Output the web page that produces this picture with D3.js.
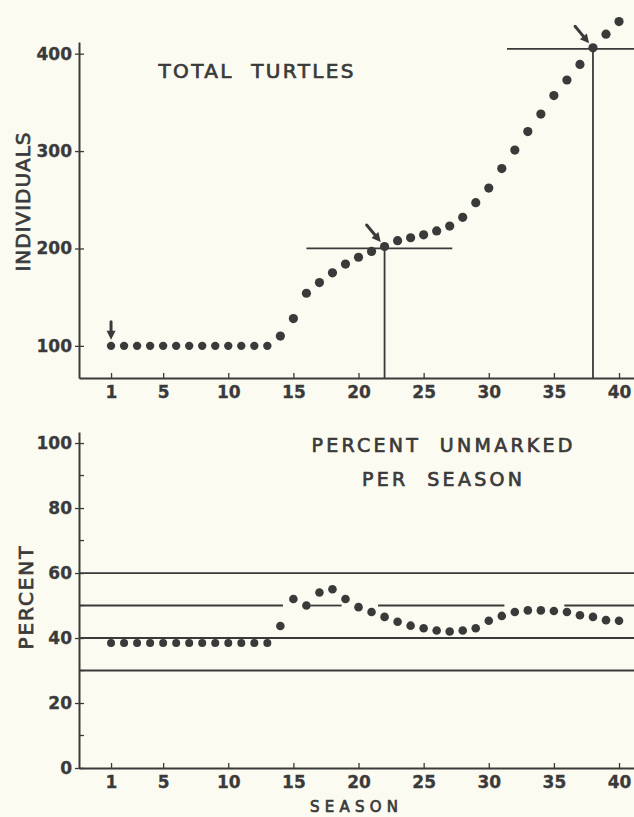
<!DOCTYPE html>
<html>
<head>
<meta charset="utf-8">
<script src="https://cdn.jsdelivr.net/npm/d3@7"></script>
<style>
  html, body { margin: 0; padding: 0; background: #fcfbf1; }
  svg { display: block; }
  text { font-family: "DejaVu Sans", sans-serif; fill: #3a3a3a; }
</style>
</head>
<body>
<svg id="chart" width="634" height="817"></svg>
<script>
// ----------
// data
var seasons = [1, 2, 3, 4, 5, 6, 7, 8, 9, 10, 11, 12, 13, 14, 15, 16, 17, 18, 19, 20,
  21, 22, 23, 24, 25, 26, 27, 28, 29, 30, 31, 32, 33, 34, 35, 36, 37, 38, 39, 40];
var totalTurtles = [100, 100, 100, 100, 100, 100, 100, 100, 100, 100, 100, 100, 100,
  110, 128, 154, 165, 175, 184, 191, 197, 202, 208, 211, 214, 218, 223, 232, 247,
  262, 282, 301, 320, 338, 357, 373, 389, 406, 420, 433];
var percentUnmarked = [38.5, 38.5, 38.5, 38.5, 38.5, 38.5, 38.5, 38.5, 38.5, 38.5,
  38.5, 38.5, 38.5, 43.7, 52, 50, 54, 55, 52, 49.5, 48, 46.5, 45, 43.8, 43, 42.3,
  42, 42.3, 43, 45.3, 46.8, 48, 48.5, 48.5, 48.3, 48, 47, 46.5, 45.5, 45.3];
var seasonTicks = [1, 5, 10, 15, 20, 25, 30, 35, 40];
var individualTicks = [100, 200, 300, 400];
var percentTicks = [0, 20, 40, 60, 80, 100];
var percentMinorTicks = [10, 30, 50, 70, 90];

// guide lines: [value, fromSeason, toSeason]
var topGuides = [[200, 16, 27.2], [405, 31.4, 41.2]];
var topDrops = [[22, 200], [38, 405]];
var percentGuides = [[60, -1.5, 41.2], [40, -1.5, 41.2], [30, -1.5, 41.2],
  [50, -1.5, 14.2], [50, 16.3, 18.7], [50, 21.5, 31.2], [50, 35.8, 41.2]];
var arrowSeasons = [1, 22, 38];

// ----------
var ink = '#3a3a3a';
var svg = d3.select('#chart');

var x = d3.scaleLinear().domain([-1.46, 41.15]).range([79, 634]);
var yTop = d3.scaleLinear().domain([67, 412]).range([378, 42]);
var yBot = d3.scaleLinear().domain([0, 103.4]).range([768, 432]);

// ----------
function styleTicks(g) {
  g.selectAll('.tick text')
    .attr('font-family', '"DejaVu Sans", sans-serif')
    .attr('font-weight', 'bold').attr('font-size', 17).attr('fill', ink)
    .attr('stroke', ink).attr('stroke-width', 0.3);
}

function drawXAxis(offset, pad) {
  var g = svg.append('g')
    .attr('transform', 'translate(0,' + offset + ')')
    .call(d3.axisBottom(x).tickValues(seasonTicks).tickSizeInner(-5)
      .tickSizeOuter(0).tickPadding(pad));
  g.select('.domain').attr('stroke', ink).attr('stroke-width', 2);
  g.selectAll('.tick line').attr('stroke', ink).attr('stroke-width', 1.3);
  styleTicks(g);
}

function drawYAxis(y, ticks) {
  var g = svg.append('g')
    .attr('transform', 'translate(' + x.range()[0] + ',0)')
    .call(d3.axisLeft(y).tickValues(ticks).tickSizeInner(4)
      .tickSizeOuter(0).tickPadding(3));
  g.select('.domain').attr('stroke', ink).attr('stroke-width', 2);
  g.selectAll('.tick line').attr('x1', 5).attr('stroke', ink).attr('stroke-width', 1.3);
  styleTicks(g);
  return g;
}

function label(txt, cx, cy, size, len, rotate) {
  var t = svg.append('text')
    .attr('x', cx).attr('y', cy)
    .attr('text-anchor', 'middle')
    .attr('font-size', size)
    .attr('stroke', ink).attr('stroke-width', 0.7)
    .attr('textLength', len).attr('lengthAdjust', 'spacing')
    .style('white-space', 'pre')
    .text(txt);
  if (rotate) t.attr('transform', 'rotate(-90 ' + cx + ',' + cy + ')');
}

function arrow(px, py, dx, dy, len) {
  // tip sits just off the point, shaft comes from up-left (or straight up)
  var n = Math.sqrt(dx * dx + dy * dy);
  var ux = dx / n, uy = dy / n;
  var tx = px - ux * 6, ty = py - uy * 6;
  var sx = tx - ux * len, sy = ty - uy * len;
  svg.append('line')
    .attr('x1', sx).attr('y1', sy).attr('x2', tx - ux * 5).attr('y2', ty - uy * 5)
    .attr('stroke', ink).attr('stroke-width', 3).attr('stroke-linecap', 'round');
  var w = 4.5, h = 9;
  var bx = tx - ux * h, by = ty - uy * h;
  svg.append('path')
    .attr('d', 'M' + tx + ',' + ty +
      'L' + (bx - uy * w) + ',' + (by + ux * w) +
      'L' + (bx + uy * w) + ',' + (by - ux * w) + 'Z')
    .attr('fill', ink);
}

// ---------- top panel
drawXAxis(yTop.range()[0], 8);
drawYAxis(yTop, individualTicks);

svg.selectAll('.top-guide').data(topGuides).enter().append('line')
  .attr('x1', function(d) { return x(d[1]); })
  .attr('x2', function(d) { return x(d[2]); })
  .attr('y1', function(d) { return yTop(d[0]); })
  .attr('y2', function(d) { return yTop(d[0]); })
  .attr('stroke', ink).attr('stroke-width', 1.8);

svg.selectAll('.top-drop').data(topDrops).enter().append('line')
  .attr('x1', function(d) { return x(d[0]); })
  .attr('x2', function(d) { return x(d[0]); })
  .attr('y1', function(d) { return yTop(d[1]); })
  .attr('y2', yTop.range()[0])
  .attr('stroke', ink).attr('stroke-width', 1.8);

svg.append('g').selectAll('circle').data(seasons).enter().append('circle')
  .attr('cx', function(d) { return x(d); })
  .attr('cy', function(d, i) { return yTop(totalTurtles[i]); })
  .attr('r', function(d) { return d <= 13 ? 4.2 : 4.6; })
  .attr('fill', ink);

arrowSeasons.forEach(function(s) {
  var v = totalTurtles[seasons.indexOf(s)];
  if (s === 1) arrow(x(s), yTop(v), 0, 1, 18);
  else arrow(x(s), yTop(v), 1, 1.2, 22);
});

label('TOTAL  TURTLES', 256, 78, 20, 195);
label('INDIVIDUALS', 30, 202, 20, 139, true);

// ---------- bottom panel
drawXAxis(yBot.range()[0], 8);
drawYAxis(yBot, percentTicks);

svg.append('g').selectAll('line').data(percentMinorTicks).enter().append('line')
  .attr('x1', x.range()[0]).attr('x2', x.range()[0] + 5)
  .attr('y1', function(d) { return yBot(d); })
  .attr('y2', function(d) { return yBot(d); })
  .attr('stroke', ink).attr('stroke-width', 1.3);

svg.selectAll('.pct-guide').data(percentGuides).enter().append('line')
  .attr('x1', function(d) { return Math.max(x(d[1]), x.range()[0]); })
  .attr('x2', function(d) { return Math.min(x(d[2]), x.range()[1]); })
  .attr('y1', function(d) { return yBot(d[0]); })
  .attr('y2', function(d) { return yBot(d[0]); })
  .attr('stroke', ink).attr('stroke-width', 1.8);

svg.append('g').selectAll('circle').data(seasons).enter().append('circle')
  .attr('cx', function(d) { return x(d); })
  .attr('cy', function(d, i) { return yBot(percentUnmarked[i]); })
  .attr('r', function(d) { return d <= 13 ? 4 : 4.3; })
  .attr('fill', ink);

label('PERCENT  UNMARKED', 442, 452, 19, 261);
label('PER  SEASON', 442, 486, 19, 160);
label('PERCENT', 33, 598, 20, 103, true);
label('SEASON', 354, 812, 15, 88);
</script>
</body>
</html>
